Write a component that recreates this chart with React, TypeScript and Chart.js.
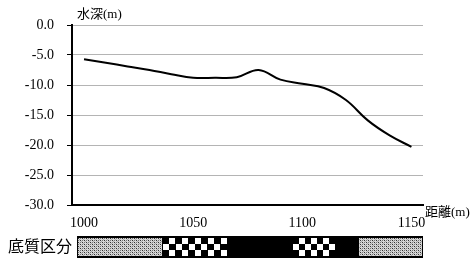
import React, { useEffect, useRef } from "react";
import { Chart, registerables } from "chart.js";
Chart.register(...registerables);

const distances = [1000, 1010, 1020, 1030, 1040, 1050, 1060, 1070, 1080, 1090, 1100, 1110, 1120, 1130, 1140, 1150];
const depths = [-5.7, -6.3, -6.9, -7.5, -8.2, -8.8, -8.8, -8.7, -7.5, -9.1, -9.8, -10.5, -12.5, -15.9, -18.4, -20.3];
const xTicks = [1000, 1050, 1100, 1150];
const xMin = 994.5;
const xMax = 1155.3;
const yMin = -30;
const yMax = 0;
const yStep = 5;

const sedimentStart = [996.8, 1036.2, 1065.5, 1095.7, 1114.9, 1125.5];
const sedimentEnd = [1036.2, 1065.5, 1095.7, 1114.9, 1125.5, 1155.3];
const sedimentType = ["sand", "gravel", "rock", "gravel", "rock", "sand"];

const yTitle = "水深(m)";
const xTitle = "距離(m)";
const barTitle = "底質区分";

const FONT = '"Liberation Serif", "Noto Sans CJK JP", serif';

function makeDotPattern(ctx: CanvasRenderingContext2D) {
  const c = document.createElement("canvas");
  c.width = 4;
  c.height = 4;
  const p = c.getContext("2d")!;
  p.fillStyle = "#d6d6d6";
  p.fillRect(0, 0, 4, 4);
  p.fillStyle = "#333";
  p.fillRect(0, 0, 1, 1);
  p.fillRect(2, 2, 1, 1);
  p.fillStyle = "#777";
  p.fillRect(2, 0, 1, 1);
  p.fillRect(0, 2, 1, 1);
  p.fillStyle = "#aaa";
  p.fillRect(1, 1, 1, 1);
  p.fillRect(3, 3, 1, 1);
  return ctx.createPattern(c, "repeat")!;
}

const extrasPlugin = {
  id: "extras",
  afterDraw(chart: any) {
    const ctx: CanvasRenderingContext2D = chart.ctx;
    const xs = chart.scales.x;
    const area = chart.chartArea;
    ctx.save();
    ctx.fillStyle = "#000";
    ctx.textBaseline = "middle";
    ctx.textAlign = "left";
    ctx.font = `13px ${FONT}`;
    ctx.fillText(yTitle, area.left + 5, area.top - 10);
    ctx.fillText(xTitle, area.right + 2, area.bottom + 8);
    ctx.font = `16px ${FONT}`;
    ctx.fillText(barTitle, 8, 248);

    // sediment bar
    const top = 236;
    const bottom = 258;
    const x0 = xs.getPixelForValue(sedimentStart[0]);
    const x1 = xs.getPixelForValue(sedimentEnd[sedimentEnd.length - 1]);
    ctx.fillStyle = "#000";
    ctx.fillRect(x0, top, x1 - x0, bottom - top);
    const dots = makeDotPattern(ctx);
    const it = top + 2;
    const ib = bottom - 2;
    for (let i = 0; i < sedimentType.length; i++) {
      const a = Math.round(xs.getPixelForValue(sedimentStart[i]));
      const b = Math.round(xs.getPixelForValue(sedimentEnd[i]));
      const t = sedimentType[i];
      if (t === "sand") {
        ctx.fillStyle = dots;
        ctx.fillRect(a + 1, it, b - a - 2, ib - it);
      } else if (t === "gravel") {
        const w = b - a;
        const cols = Math.max(1, Math.round(w / 6.4));
        const cw = w / cols;
        const rows = 3;
        const ch = (ib - it) / rows;
        ctx.fillStyle = "#fff";
        for (let r = 0; r < rows; r++) {
          for (let c = 0; c < cols; c++) {
            if ((r + c) % 2 === 1) {
              ctx.fillRect(Math.round(a + c * cw), Math.round(it + r * ch), Math.round(cw), Math.round(ch));
            }
          }
        }
      }
    }
    ctx.restore();
  },
};

export default function App() {
  const ref = useRef<HTMLCanvasElement | null>(null);
  useEffect(() => {
    const canvas = ref.current;
    if (!canvas) return;
    const chart = new Chart(canvas, {
      type: "line",
      data: {
        datasets: [
          {
            data: distances.map((d, i) => ({ x: d, y: depths[i] })),
            borderColor: "#000",
            borderWidth: 2,
            pointRadius: 0,
            tension: 0.4,
            fill: false,
          },
        ],
      },
      options: {
        animation: false,
        responsive: false,
        devicePixelRatio: 1,
        layout: { padding: { left: 0, top: 25, right: 52, bottom: 0 } },
        plugins: { legend: { display: false }, tooltip: { enabled: false } },
        scales: {
          x: {
            type: "linear",
            min: xMin,
            max: xMax,
            afterBuildTicks: (axis: any) => {
              axis.ticks = xTicks.map((v) => ({ value: v }));
            },
            afterFit: (scale: any) => {
              scale.height = 61;
            },
            grid: { display: false, drawTicks: false },
            border: { display: true, color: "#000", width: 2 },
            ticks: {
              color: "#000",
              font: { family: FONT, size: 14 },
              padding: 10,
              maxRotation: 0,
              autoSkip: false,
              callback: (v: any) => String(v),
            },
          },
          y: {
            min: yMin,
            max: yMax,
            afterFit: (scale: any) => {
              scale.width = 72;
            },
            grid: { color: "#b4b4b4", lineWidth: 1, tickColor: "#000", tickLength: 5, drawTicks: true },
            border: { display: true, color: "#000", width: 2 },
            ticks: {
              stepSize: yStep,
              color: "#000",
              font: { family: FONT, size: 14 },
              padding: 13,
              callback: (v: any) => Number(v).toFixed(1),
            },
          },
        },
      },
      plugins: [extrasPlugin],
    });
    return () => chart.destroy();
  }, []);
  return (
    <div style={{ position: "absolute", left: 0, top: 0, width: 475, height: 266 }}>
      <canvas ref={ref} width={475} height={266} style={{ width: 475, height: 266 }} />
    </div>
  );
}
